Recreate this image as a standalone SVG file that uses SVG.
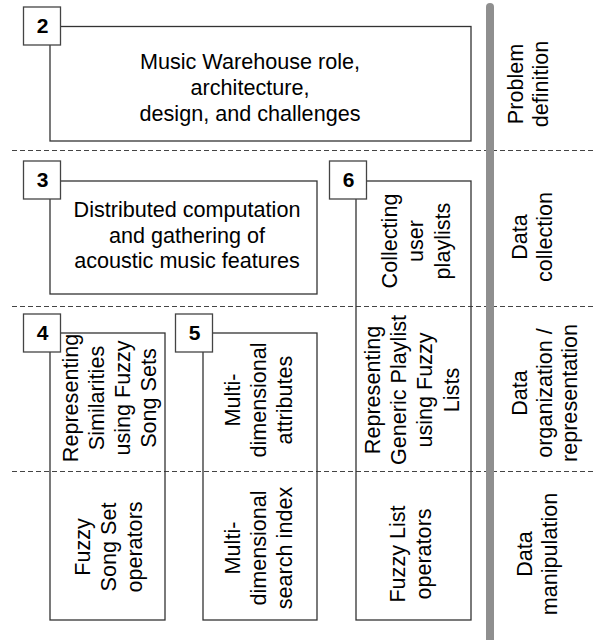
<svg xmlns="http://www.w3.org/2000/svg" width="593" height="640" viewBox="0 0 593 640">
<style>
.box{fill:none;stroke:#333;stroke-width:1.3}
.tag{fill:#fff;stroke:#444;stroke-width:1.3}
.num{font-family:"Liberation Sans",Arial,sans-serif;font-weight:bold;font-size:21px;fill:#000;text-anchor:middle}
.t{font-family:"Liberation Sans",Arial,sans-serif;font-size:21.6px;fill:#000;text-anchor:middle}
.sep{stroke:#444;stroke-width:1;stroke-dasharray:5,3;fill:none}
</style>
<rect width="593" height="640" fill="#fff"/>
<g id="separators">
<line class="sep" x1="12" y1="150.5" x2="593" y2="150.5"/>
<line class="sep" x1="12" y1="306.5" x2="593" y2="306.5"/>
<line class="sep" x1="12" y1="471.5" x2="593" y2="471.5"/>
</g>
<g id="n2">
<rect class="box" x="50" y="26.5" width="421" height="114.5"/>
<rect class="tag" x="23.5" y="7" width="37" height="38"/>
<text class="num" x="42.5" y="33">2</text>
<text class="t"><tspan x="250" y="69">Music Warehouse role,</tspan><tspan x="250" y="95">architecture,</tspan><tspan x="250" y="121">design, and challenges</tspan></text>
</g>
<g id="n3">
<rect class="box" x="50" y="181" width="267" height="113"/>
<rect class="tag" x="23.5" y="161" width="37" height="38"/>
<text class="num" x="42.5" y="187">3</text>
<text class="t"><tspan x="187" y="217">Distributed computation</tspan><tspan x="187" y="243">and gathering of</tspan><tspan x="187" y="268">acoustic music features</tspan></text>
</g>
<g id="n6">
<rect class="box" x="356" y="181" width="115" height="439"/>
<rect class="tag" x="329.5" y="161" width="37" height="38"/>
<text class="num" x="348.5" y="187">6</text>
<text class="t" transform="translate(0,241) rotate(-90)"><tspan x="0" y="397">Collecting</tspan><tspan x="0" y="423">user</tspan><tspan x="0" y="450">playlists</tspan></text>
<text class="t" transform="translate(0,390) rotate(-90)"><tspan x="0" y="380">Representing</tspan><tspan x="0" y="406">Generic Playlist</tspan><tspan x="0" y="432">using Fuzzy</tspan><tspan x="0" y="459">Lists</tspan></text>
<text class="t" transform="translate(0,554) rotate(-90)"><tspan x="0" y="405">Fuzzy List</tspan><tspan x="0" y="431">operators</tspan></text>
</g>
<g id="n4">
<rect class="box" x="50" y="333" width="115" height="287"/>
<rect class="tag" x="23.5" y="314" width="37" height="38"/>
<text class="num" x="42.5" y="340">4</text>
<text class="t" transform="translate(0,398) rotate(-90)"><tspan x="0" y="78">Representing</tspan><tspan x="0" y="104">Similarities</tspan><tspan x="0" y="130">using Fuzzy</tspan><tspan x="0" y="156">Song Sets</tspan></text>
<text class="t" transform="translate(0,547) rotate(-90)"><tspan x="0" y="90">Fuzzy</tspan><tspan x="0" y="116">Song Set</tspan><tspan x="0" y="142">operators</tspan></text>
</g>
<g id="n5">
<rect class="box" x="203" y="333" width="114" height="287"/>
<rect class="tag" x="175.5" y="314" width="37" height="38"/>
<text class="num" x="194.5" y="340">5</text>
<text class="t" transform="translate(0,400) rotate(-90)"><tspan x="0" y="240">Multi-</tspan><tspan x="0" y="266">dimensional</tspan><tspan x="0" y="292">attributes</tspan></text>
<text class="t" transform="translate(0,548) rotate(-90)"><tspan x="0" y="240">Multi-</tspan><tspan x="0" y="266">dimensional</tspan><tspan x="0" y="292">search index</tspan></text>
</g>
<g id="lanes">
<rect x="486" y="3" width="8" height="660" rx="4" fill="#8f8f8f"/>
<text class="t" transform="translate(0,84) rotate(-90)"><tspan x="0" y="523">Problem</tspan><tspan x="0" y="548">definition</tspan></text>
<text class="t" transform="translate(0,237) rotate(-90)"><tspan x="0" y="527">Data</tspan><tspan x="0" y="552">collection</tspan></text>
<text class="t" transform="translate(0,393) rotate(-90)"><tspan x="0" y="527">Data</tspan><tspan x="0" y="552">organization /</tspan><tspan x="0" y="577">representation</tspan></text>
<text class="t" transform="translate(0,554) rotate(-90)"><tspan x="0" y="532">Data</tspan><tspan x="0" y="557">manipulation</tspan></text>
</g>
</svg>
